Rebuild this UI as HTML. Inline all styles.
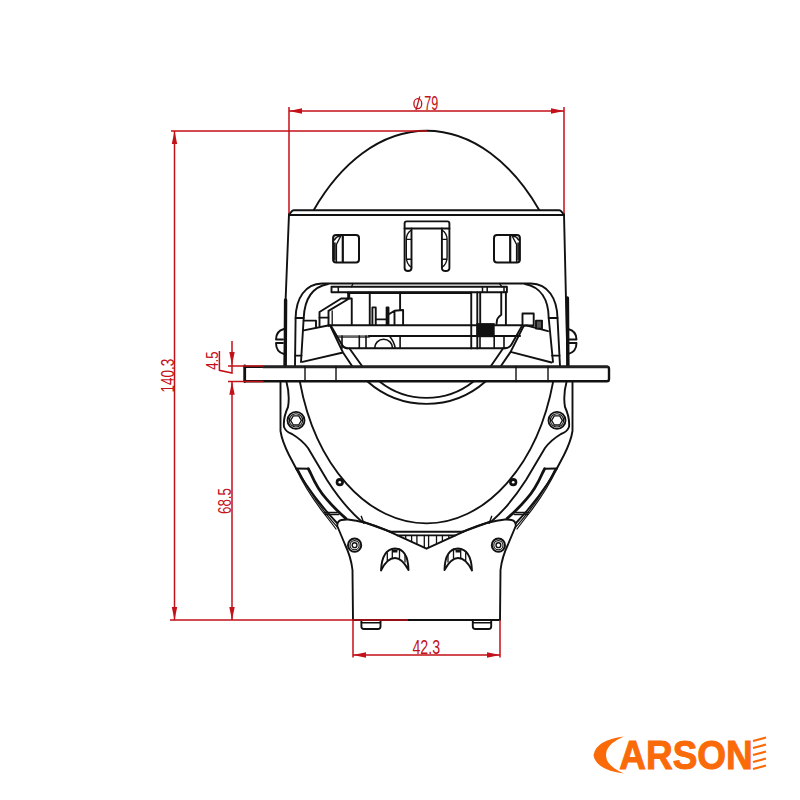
<!DOCTYPE html>
<html><head><meta charset="utf-8">
<style>
html,body{margin:0;padding:0;background:#fff;width:800px;height:800px;overflow:hidden}
svg{display:block}
</style></head>
<body>
<svg width="800" height="800" viewBox="0 0 800 800">
<rect width="800" height="800" fill="#fff"/>
<defs>
<path id="arw" d="M0 0 L-2.7 13 L2.7 13 Z"/>
</defs>

<!-- ============ BLACK DRAWING ============ -->
<g fill="none" stroke="#111" stroke-width="1.9" stroke-linejoin="round" stroke-linecap="round">

<!-- dome -->
<path d="M313.8 210 A153.75 247.6 0 0 1 539.2 210"/>
<!-- housing top plate -->
<path d="M289 214.5 L292.2 210.9 Q292.8 210.3 294 210.3 L559 210.3 Q560.2 210.3 560.8 210.9 L564 214.5"/>
<path d="M289 215 L564 215"/>
<!-- housing sides -->
<path d="M289 214 L285.6 300 L284.6 366"/>
<path d="M564 214 L566 300 L567.6 366"/>
<path d="M285.6 300 L285.2 366" stroke-width="3.4"/>
<path d="M567.4 298 L567.9 366" stroke-width="3.4"/>
<!-- side bumps -->
<path d="M284 329 Q276 331 276 339.5 L283 339.5 M283 343 L276 343 Q276 352 284 354"/>
<path d="M568 329 Q576.5 331 576.5 339.5 L569 339.5 M569 343 L576.5 343 Q576.5 352 568 354"/>

<!-- windows -->
<g id="win">
<rect x="333.1" y="235.1" width="25.9" height="27.3" rx="3" stroke-width="2"/>
<path d="M342.8 235.5 L342.8 262" stroke-width="2.2"/>
<path d="M340.8 236 L336.4 244.5 L336.4 261.5" stroke-width="1.4"/>
<path d="M334.4 240 Q336 236.5 340 236 M334.9 243 L334.9 260" stroke-width="1.6"/>
</g>
<use href="#win" transform="matrix(-1 0 0 1 853 0)"/>
<!-- center tab -->
<path d="M404.6 268 L404.6 223.5 Q404.6 221.4 406.7 221.4 L447.3 221.4 Q449.4 221.4 449.4 223.5 L449.4 268 Q449.4 271 445.7 271 Q441.9 271 441.9 268 L441.9 228.5 M404.6 268 Q404.6 271 408 271 Q411.5 271 411.5 268 L411.5 228.5"/>
<path d="M404.6 228.5 L449.4 228.5"/>
<path d="M411.5 230 Q406.3 233 406.3 240 L406.3 257 Q406.3 264 411.5 267.5 M406.3 239.4 L411.5 239.4 M406.3 259.3 L411.5 259.3 M441.9 230 Q447.1 233 447.1 240 L447.1 257 Q447.1 264 441.9 267.5 M441.9 239.4 L447.1 239.4 M441.9 259.3 L447.1 259.3" stroke-width="1.4"/>

<!-- ===== frame ===== -->
<path d="M295 366 L295.6 318 C296 298 305 284 322 283.5 L531 283.5 C548 284 557 298 557.5 318 L560 366"/>
<path d="M301 362 L303.7 318 C304.5 300 312 287 328 284 M525 284 C541 287 548.5 300 548.7 318 L553 362"/>
<path d="M295.6 318 L303.7 318 M295.2 355.6 L301.5 355.6 M548.7 318 L557.5 318 M552 355.6 L559.5 355.6"/>
<!-- rail -->
<path d="M351.5 286.8 L353 283.5 M499.5 283.5 L502 286.8" stroke-width="1.3"/>
<path d="M331.5 286.8 L506.9 286.8 L506.9 292.3 L331.5 292.3 Z"/>
<path d="M338.3 286.8 L338.3 292.3 M482.5 286.8 L482.5 292.3 M487.2 286.8 L487.2 292.3 M504 286.8 L504 292.3" stroke-width="1.5"/>
<path d="M348 292.9 L470 292.9" stroke-width="2.4"/>
<rect x="347.2" y="292" width="3" height="7.3" fill="#111" stroke="none"/>
<!-- left bracket -->
<path d="M319.5 325.9 L319.5 312 L341.2 298.5 L351.75 298.5 L351.75 325.1 M328.5 325.9 L328.5 310.9 L348 299.3"/>
<path d="M319.5 317.6 L328.5 317.6"/>
<path d="M332.2 311 L332.2 325" stroke-width="1.3"/>
<path d="M303.7 320.6 L316 320.6 L316 327.5"/>
<!-- internal verticals -->
<path d="M369.75 292.5 L369.75 325 M400.1 292.5 L400.1 310 M471.25 292.5 L471.25 348.4 M477.3 292.5 L477.3 348.4 M480.2 292.5 L480.2 323 M501.25 292.5 L501.25 314.7 Q497 318 497 320.3 L496.5 324 M505.9 292.5 L505.9 325"/>
<!-- small steps -->
<path d="M372.4 325 L372.4 307.4 L375.75 307.4 L375.75 325 M375.75 319.4 L386.6 319.4 M386.6 325 L386.6 307.4 L388.5 307.4 L388.5 325 M388.5 314.5 L394.5 310.75 L403.1 310 L403.1 325 M394.5 310.75 L394.5 325"/>
<!-- horizontals -->
<path d="M328.5 325.3 L522.5 325.3"/>
<path d="M337.5 336.6 L369 336.6" stroke-width="2.8" stroke="#666"/>
<path d="M369 336 L520 336" stroke-width="2.1"/>
<path d="M347 348.3 L505 348.3"/>
<path d="M342 336 L342 348.3 M359.3 336 L359.3 348.3 M366 336 L366 348.3 M400.1 336 L400.1 348.3 M480 336 L480 348.3 M494.2 336 L494.2 348.3 M504 336 L504 348.3" stroke-width="1.6"/>
<!-- black block -->
<rect x="476.4" y="323.1" width="18.3" height="14.1" fill="#111" stroke="none"/>
<!-- semicircle -->
<path d="M374.6 348.3 A9 9 0 0 1 392.6 348.3 M389.25 336 Q394 341 395.25 348.3" stroke-width="1.6"/>
<!-- wedges -->
<path d="M303.8 330.4 L329.2 325.3 Q330 325.3 330.5 326.3 L343 352.5 L352.4 366.5 M343 352.5 L302.5 361.9"/>
<path d="M331.5 326.8 L341.75 344.5 Q343.5 348 347 348.3"/>
<path d="M349.5 348.5 L362.4 366.5"/>
<path d="M548 331.2 L527 325.5 Q524.5 325 523.5 326.3 L510.6 351.9 L500.6 366.5 M510.6 351.9 L551.6 362.5"/>
<path d="M521.5 326.6 L511.5 344.5 Q509.5 348 505 348.3"/>
<path d="M503 348.5 L490.6 366.5"/>
<!-- small right parts -->
<rect x="522.5" y="313.5" width="11.2" height="12"/>
<rect x="536" y="320.6" width="6" height="8" fill="#555"/>

<!-- flange -->
<path d="M244.7 381.3 L607 381.3 Q609 381.3 609 379 L609 369 Q609 366.8 607 366.8 L244.7 366.8" stroke-width="2.4"/>
<path d="M263 366.8 L607 366.8" stroke-width="2.8" stroke="#222"/>
<path d="M244.7 366 L244.7 381.5" stroke-width="2.8"/>
<path d="M305 366.5 L305 381.5 M336 366.5 L336 381.5 M516 366.5 L516 381.5 M548 366.5 L548 381.5" stroke-width="1.4"/>

<!-- upper lens bottom arcs -->
<path d="M379.5 381.5 A75.5 75.5 0 0 0 473.5 381.5"/>
<path d="M367.5 381.5 A89 89 0 0 0 485.5 381.5"/>

<!-- lens ellipse -->
<path d="M299.8 381.3 A131.2 191.9 0 0 0 553.2 381.3"/>

<!-- left lower housing -->
<g id="lh">
<path d="M280.5 381.5 L280.5 431 Q282 441 289 455 Q306 490 337 523"/>
<path d="M286.5 382 Q290 395 288 407 Q283 418 284 427 Q286 432 292 434 Q302 440 308 448 L327 480 Q343 505 361 521 L392.5 532.5"/>
<circle cx="296" cy="420.4" r="8.5" stroke-width="1.9"/>
<circle cx="296" cy="420.4" r="6.6" stroke-width="1.1"/>
<path d="M290.6 420.4 L293.3 415.8 L298.7 415.8 L301.4 420.4 L298.7 425 L293.3 425 Z" stroke-width="1.3"/>
<path d="M361.3 516.3 L363.8 523.2" stroke-width="1.4"/>
<circle cx="339.8" cy="482.2" r="4.1" fill="#111" stroke="none"/><circle cx="339.8" cy="482.2" r="1.3" fill="#fff" stroke="none"/>
<!-- slot -->
<path d="M295.8 468.3 Q306 490 323.2 512.5 Q330 521 336 529 M298 469.2 Q307.8 490 325 512.3 Q331.5 520.5 337.8 527.6" stroke-width="1.2"/>
<path d="M296 468.4 L308.4 468.8" stroke-width="2"/>
<path d="M308.4 468.8 L310.5 473 Q318 490 326.8 499.4 Q335 509 346 518.6" stroke-width="2.8"/>
<path d="M324 512.5 L337.3 512.5 M325.3 514.5 L338.7 514.5" stroke-width="1.3"/>
</g>
<use href="#lh" transform="matrix(-1 0 0 1 853 0)"/>

<!-- bracket -->
<path d="M337.25 526 Q337 521 341.5 520 Q345 519.3 348 519.5 Q364 521 385 529.6 L426.5 548.7 L468 529.6 Q489 521 505 519.5 Q508 519.3 511.5 520 Q516 521 515.75 526 L508 544.5 Q502 557 500.5 570 L500 620 L353 620 L352.5 570 Q351 557 345 544.5 Z"/>
<path d="M390 531.8 L463 531.8 M397.6 535.4 L455.4 535.4"/>
<path d="M405.7 535.4 L405.7 538.5 M411.6 535.4 L411.6 541.5 M416.9 535.4 L416.9 544 M424.3 535.4 L424.3 547.5 M428.6 535.4 L428.6 547.5 M436.5 535.4 L436.5 543.5 M442.4 535.4 L442.4 540.5 M448.8 535.4 L448.8 537.5" stroke-width="1.3"/>
<!-- bracket screws -->
<circle cx="354.6" cy="545.2" r="6.6" stroke-width="2"/>
<circle cx="354.6" cy="545.2" r="4.6" stroke-width="1.1"/>
<circle cx="354.6" cy="545.2" r="2.4" stroke-width="1.4"/>
<circle cx="498.4" cy="545.2" r="6.6" stroke-width="2"/>
<circle cx="498.4" cy="545.2" r="4.6" stroke-width="1.1"/>
<circle cx="498.4" cy="545.2" r="2.4" stroke-width="1.4"/>
<!-- crescents -->
<g id="cr">
<path d="M381 570.5 Q382 549 395 548.5 Q408 549 408.5 570 Q402 558 395 558 Q387 558 381 570.5 Z" stroke-width="1.9"/>
<path d="M387.3 553 L387.3 560.5 M392.3 549 L392.3 558 M399.5 549 L399.5 558.3 M405 555 L405 562 M392.8 550.5 L397 550.5 M392.8 551.8 L397 551.8" stroke-width="1.3"/>
</g>
<use href="#cr" transform="matrix(-1 0 0 1 853 0)"/>
<!-- tabs -->
<path d="M361.4 620.5 L361.4 626.5 Q361.4 629 364 629 L378 629 Q380.5 629 380.5 626.5 L380.5 620.5"/>
<path d="M361.4 622.8 L380.5 622.8 M472.8 622.8 L491.2 622.8" stroke-width="1.4"/>
<path d="M472.8 620.5 L472.8 626.5 Q472.8 629 475.4 629 L488.6 629 Q491.2 629 491.2 626.5 L491.2 620.5"/>
</g>

<!-- ============ RED DIMENSIONS ============ -->
<g stroke="#c21119" stroke-width="1.5" fill="none">
<path d="M289 107 L289 213.5 M564 107 L564 213.5 M289 111 L564 111"/>
<path d="M171 131 L427 131 M174.5 131 L174.5 620"/>
<path d="M170 620 L408 620"/>
<path d="M232 341 L232 366 M232 381.5 L232 620"/>
<path d="M228 366 L263.5 366 M228 381.5 L263.5 381.5"/>
<path d="M219.4 351 L219.4 370.3 L232 373 L232 366"/>
<path d="M353 620 L353 657.5 M500 620 L500 657.5 M353 655 L500 655"/>
</g>
<g fill="#c21119">
<use href="#arw" transform="translate(289 111) rotate(-90)"/>
<use href="#arw" transform="translate(564 111) rotate(90)"/>
<use href="#arw" transform="translate(174.5 131)"/>
<use href="#arw" transform="translate(174.5 620) rotate(180)"/>
<use href="#arw" transform="translate(232 620) rotate(180)"/>
<use href="#arw" transform="translate(232 365) rotate(180)"/>
<use href="#arw" transform="translate(232 381.8)"/>
<use href="#arw" transform="translate(353 655) rotate(-90)"/>
<use href="#arw" transform="translate(500 655) rotate(90)"/>
</g>
<g fill="#c21119" font-family="Liberation Sans, sans-serif" font-size="18.5">
<text x="424.3" y="109.8" font-size="20" textLength="14" lengthAdjust="spacingAndGlyphs">79</text>
<text x="412.4" y="654.2" font-size="19.8" textLength="27.7" lengthAdjust="spacingAndGlyphs">42.3</text>
<text transform="translate(173.9 392.6) rotate(-90)" textLength="33.8" lengthAdjust="spacingAndGlyphs">140.3</text>
<text transform="translate(231.4 514) rotate(-90)" textLength="26" lengthAdjust="spacingAndGlyphs">68.5</text>
<text transform="translate(217.8 369.8) rotate(-90)" font-size="17.2" textLength="18.5" lengthAdjust="spacingAndGlyphs">4.5</text>
</g>
<g stroke="#c21119" fill="none" stroke-width="1.3">
<ellipse cx="417.8" cy="103.7" rx="3.9" ry="5"/>
<path d="M419.8 96.3 L416 110.2"/>
</g>

<!-- ============ LOGO ============ -->
<g fill="#fa6a08">
<path d="M624 736.5 Q596 740 593.5 755 Q596 770 624 773.5 Q606 766 606 755 Q606 744 624 736.5 Z"/>
<text x="619.3" y="768.6" font-family="Liberation Sans, sans-serif" font-weight="bold" font-size="40" textLength="133.5" lengthAdjust="spacingAndGlyphs" stroke="#fa6a08" stroke-width="1">ARSON</text>
</g>
<g stroke="#fa6a08" stroke-width="2.2">
<path d="M753 741 L766 737.5 M753 748 L766 744.5 M753 755 L766 751.5 M753 762 L766 758.5 M753 769 L766 765.5"/>
</g>
</svg>
</body></html>
